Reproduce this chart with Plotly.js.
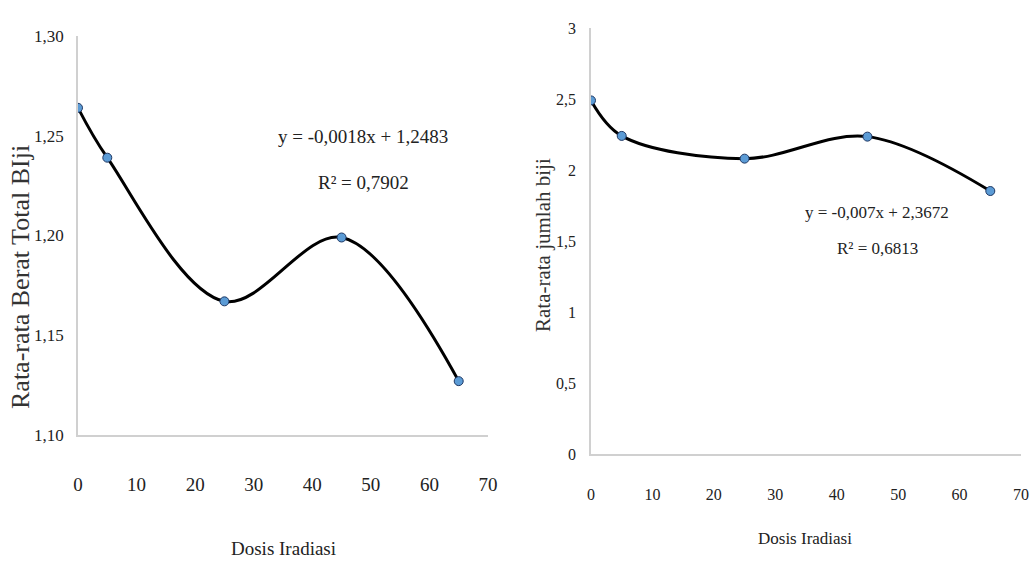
<!DOCTYPE html>
<html>
<head>
<meta charset="utf-8">
<script src="https://cdn.plot.ly/plotly-3.0.1.min.js"></script>
<style>html,body{margin:0;padding:0;background:#fff}#chart{width:1032px;height:567px}</style>
</head>
<body>
<div id="chart"></div>
<script>
// Data
const dosis = [0, 5, 25, 45, 65];
const beratTotal = [1.264, 1.239, 1.167, 1.199, 1.127];
const jumlahBiji = [2.49, 2.24, 2.08, 2.235, 1.852];
const xTicks = [0, 10, 20, 30, 40, 50, 60, 70];
const leftYTicks = [1.10, 1.15, 1.20, 1.25, 1.30];
const rightYTicks = [0, 0.5, 1, 1.5, 2, 2.5, 3];
const eqLeft = ["y = -0,0018x + 1,2483", "R² = 0,7902"];
const eqRight = ["y = -0,007x + 2,3672", "R² = 0,6813"];
const xTitle = "Dosis Iradiasi";
const yTitleLeft = "Rata-rata Berat Total BIji";
const yTitleRight = "Rata-rata jumlah biji";

const W = 1032, H = 567;
const px = v => v / W;
const py = v => 1 - v / H;

const serif = "'Liberation Serif', 'Times New Roman', serif";
const ink = "#222222";

const lineStyle = {color: "#000000", width: 3, shape: "spline", smoothing: 1};
const markerStyle = {color: "#5b9bd5", size: 9, line: {color: "#1f3864", width: 1}};

const traces = [
  {x: dosis, y: beratTotal, type: "scatter", mode: "lines+markers", line: lineStyle, marker: markerStyle, xaxis: "x", yaxis: "y", hoverinfo: "x+y"},
  {x: dosis, y: jumlahBiji, type: "scatter", mode: "lines+markers", line: lineStyle, marker: markerStyle, xaxis: "x2", yaxis: "y2", hoverinfo: "x+y"}
];

const axisBase = {
  showgrid: false, zeroline: false, showline: true, linecolor: "#d0d0d0", linewidth: 1.5,
  ticks: "", fixedrange: true
};

const layout = {
  width: W, height: H,
  margin: {l: 0, r: 0, t: 0, b: 0},
  paper_bgcolor: "#ffffff", plot_bgcolor: "#ffffff",
  showlegend: false,
  separators: ",.",
  xaxis: Object.assign({}, axisBase, {
    domain: [px(78), px(488)], range: [0, 70], tickmode: "array", tickvals: xTicks,
    tickfont: {family: serif, size: 19, color: ink}, ticklabelstandoff: 31, anchor: "y"
  }),
  yaxis: Object.assign({}, axisBase, {
    domain: [1 - 435 / H, 1 - 36 / H], range: [1.10, 1.30], tickmode: "array", tickvals: leftYTicks,
    tickformat: ".2f", tickfont: {family: serif, size: 17, color: ink}, ticklabelstandoff: 9, anchor: "x"
  }),
  xaxis2: Object.assign({}, axisBase, {
    domain: [px(591), px(1021)], range: [0, 70], tickmode: "array", tickvals: xTicks,
    tickfont: {family: serif, size: 16, color: ink}, ticklabelstandoff: 25, anchor: "y2"
  }),
  yaxis2: Object.assign({}, axisBase, {
    domain: [1 - 454 / H, 1 - 28 / H], range: [0, 3], tickmode: "array", tickvals: rightYTicks,
    tickfont: {family: serif, size: 16, color: ink}, ticklabelstandoff: 10, anchor: "x2"
  }),
  annotations: [
    {text: eqLeft[0], x: px(363), y: py(137), xref: "paper", yref: "paper", showarrow: false, xanchor: "center", yanchor: "middle", font: {family: serif, size: 19, color: ink}},
    {text: eqLeft[1], x: px(363), y: py(182), xref: "paper", yref: "paper", showarrow: false, xanchor: "center", yanchor: "middle", font: {family: serif, size: 19, color: ink}},
    {text: eqRight[0], x: px(877), y: py(213), xref: "paper", yref: "paper", showarrow: false, xanchor: "center", yanchor: "middle", font: {family: serif, size: 17, color: ink}},
    {text: eqRight[1], x: px(877), y: py(248), xref: "paper", yref: "paper", showarrow: false, xanchor: "center", yanchor: "middle", font: {family: serif, size: 17, color: ink}},
    {text: xTitle, x: px(283), y: py(548), xref: "paper", yref: "paper", showarrow: false, xanchor: "center", yanchor: "middle", font: {family: serif, size: 19, color: ink}},
    {text: xTitle, x: px(805), y: py(538), xref: "paper", yref: "paper", showarrow: false, xanchor: "center", yanchor: "middle", font: {family: serif, size: 17, color: ink}},
    {text: yTitleLeft, x: px(21), y: py(277), xref: "paper", yref: "paper", showarrow: false, textangle: -90, xanchor: "center", yanchor: "middle", font: {family: serif, size: 26, color: "#333333"}},
    {text: yTitleRight, x: px(543), y: py(245), xref: "paper", yref: "paper", showarrow: false, textangle: -90, xanchor: "center", yanchor: "middle", font: {family: serif, size: 21, color: "#333333"}}
  ]
};

Plotly.newPlot("chart", traces, layout, {displayModeBar: false, responsive: false});
</script>
</body>
</html>
